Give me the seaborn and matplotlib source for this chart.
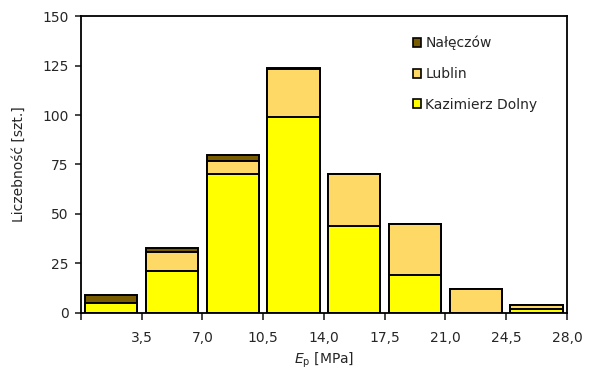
import matplotlib
matplotlib.use("Agg")
import matplotlib.pyplot as plt
from matplotlib.patches import Patch
import numpy as np
import pandas as pd
import seaborn as sns

# histogram bins of E_p [MPa], upper edges
bin_edges = [0.0, 3.5, 7.0, 10.5, 14.0, 17.5, 21.0, 24.5, 28.0]
tick_labels = ["", "3,5", "7,0", "10,5", "14,0", "17,5", "21,0", "24,5", "28,0"]

kazimierz = [5, 21, 70, 99, 44, 19, 0, 2]
lublin = [0, 10, 7, 24, 26, 26, 12, 2]
naleczow = [4, 2, 3, 1, 0, 0, 0, 0]

series = ["Nałęczów", "Lublin", "Kazimierz Dolny"]
colors = {"Nałęczów": "#7A5C00", "Lublin": "#FFD966", "Kazimierz Dolny": "#FFFF00"}

sns.set_style("ticks")
plt.rcParams["font.family"] = ["DejaVu Sans"]
plt.rcParams["mathtext.fontset"] = "dejavusans"

kd = np.array(kazimierz)
lu = kd + np.array(lublin)
na = lu + np.array(naleczow)
stacked = {"Nałęczów": na, "Lublin": lu, "Kazimierz Dolny": kd}

bins = [f"{a}-{b}" for a, b in zip(bin_edges[:-1], bin_edges[1:])]

fig = plt.figure(figsize=(5.89, 3.73), dpi=100)
ax = fig.add_axes([0.1375, 0.161, 0.825, 0.796])

# draw cumulative totals back to front to get a stacked look
for name in series:
    df = pd.DataFrame({"bin": bins, "count": stacked[name]})
    sns.barplot(data=df, x="bin", y="count", color=colors[name], saturation=1,
                width=0.86, edgecolor="black", linewidth=1.4, ax=ax)

ax.set_xlim(-0.5, len(bins) - 0.5)
ax.set_xticks(np.arange(len(bin_edges)) - 0.5)
ax.set_xticklabels(tick_labels, fontsize=10)
ax.set_ylim(0, 150)
ax.set_yticks(range(0, 151, 25))
ax.tick_params(axis="y", labelsize=10, length=4, width=1.2, pad=5)
ax.tick_params(axis="x", length=5, width=1.2, pad=8)
for sp in ax.spines.values():
    sp.set_linewidth(1.3)
    sp.set_color("black")

ax.set_xlabel(r"$\mathit{E}_\mathrm{p}$ [MPa]", fontsize=10, labelpad=4)
ax.set_ylabel("Liczebność [szt.]", fontsize=10, labelpad=12)

handles = [Patch(facecolor=colors[n], edgecolor="black", linewidth=1.2, label=n)
           for n in series]
ax.legend(handles=handles, loc="upper right", frameon=False, fontsize=10,
          handlelength=0.6, handleheight=0.6, handletextpad=0.3,
          labelspacing=1.2, bbox_to_anchor=(0.965, 0.975))

fig.savefig("out.png", dpi=100)
